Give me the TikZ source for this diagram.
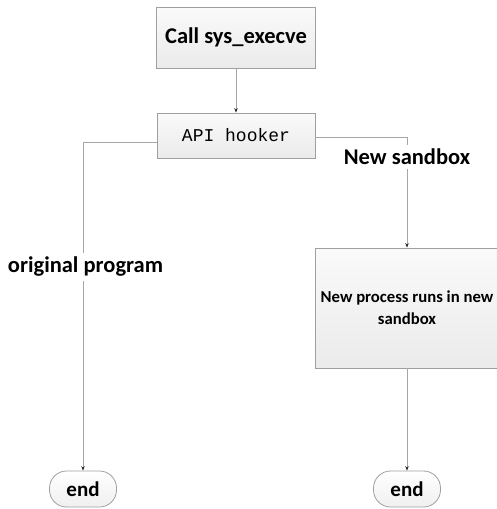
\documentclass[tikz,border=0pt]{standalone}
\usepackage{fontspec}
\setmainfont{Carlito}
\newfontfamily\hookfont{Liberation Mono}
\usetikzlibrary{arrows.meta}
\tikzstyle{step-box}=[draw=gray!75,line width=0.8pt,rectangle,top color=gray!4,bottom color=gray!16,inner sep=2pt]
\tikzstyle{end-node}=[draw=gray!75,line width=0.8pt,rectangle,rounded corners=17pt,top color=white,bottom color=gray!12,minimum width=67pt,minimum height=36pt,font=\fontsize{21}{25}\selectfont\bfseries]
\tikzstyle{branch-label}=[fill=white,inner sep=4pt,font=\fontsize{22.5}{27}\selectfont\bfseries]
\tikzstyle{flow-line}=[draw=gray!70,line width=0.7pt]

\begin{document}
\begin{tikzpicture}[x=1pt,y=-1pt]
	\useasboundingbox (0,0) rectangle (497,509);
	\begin{scope}
	\node (call)[step-box,minimum width=159pt,minimum height=61pt,font=\fontsize{22.5}{27}\selectfont\bfseries] at (236,37.5) {Call sys\_execve};
	\node (hook)[step-box,minimum width=158pt,minimum height=45pt,font=\hookfont\fontsize{18}{22}\selectfont] at (236,135.5) {API hooker};
	\node (proc)[step-box,minimum width=184pt,minimum height=120pt,align=center,font=\fontsize{16.7}{22}\selectfont\bfseries] at (407,308) {New process runs in new\\sandbox};
	
	\node (end1)[end-node] at (83,489) {end};
	\node (end2)[end-node] at (407,489) {end};
	\end{scope}
	
	\begin{scope}
	\node (orig)[branch-label] at (85.5,267) {original program};
	\node (newsb)[branch-label] at (407,157) {New sandbox};
	\end{scope}
	
	\begin{scope}[>={Stealth[length=4.5pt,width=3.5pt,gray!30!black]}, every edge/.style=flow-line]
	\path [->] (call) edge node {} (hook);
	\path [->] (newsb) edge node {} (proc);
	\path [->] (proc) edge node {} (end2);
	\path [->] (orig.south -| end1) edge node {} (end1);
	\draw [flow-line] ([yshift=-6.5pt]hook.west) -| (orig.north -| end1);
	\draw [flow-line] ([yshift=-2pt]hook.east) -| (newsb);
	\end{scope}
\end{tikzpicture}
\end{document}
